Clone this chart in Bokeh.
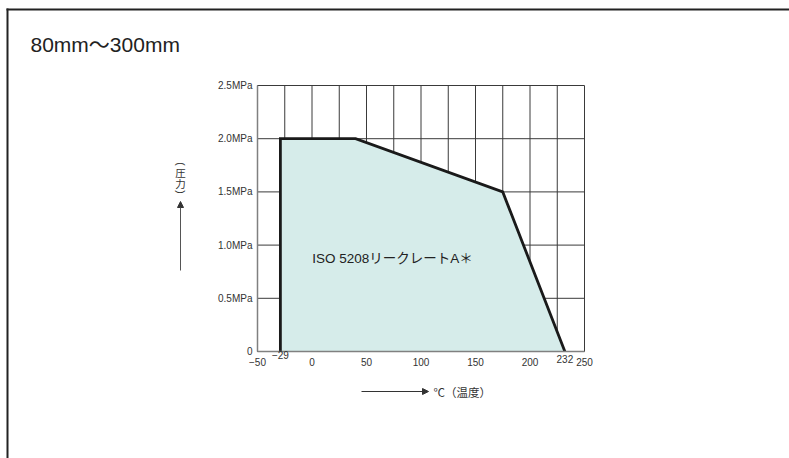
import math
from bokeh.plotting import figure
from bokeh.models import Range1d, FixedTicker, Label, Arrow, NormalHead
from bokeh.embed import file_html
from bokeh.resources import INLINE

# ---- data ----
temps = [-29, -29, 40, 175, 232]
pressures = [0.0, 2.0, 2.0, 1.5, 0.0]
x_ticks = [-50, 0, 50, 100, 150, 200, 250]
x_tick_labels = ["−50", "0", "50", "100", "150", "200", "250"]
y_ticks = [0, 0.5, 1.0, 1.5, 2.0, 2.5]
y_tick_labels = ["0", "0.5MPa", "1.0MPa", "1.5MPa", "2.0MPa", "2.5MPa"]
limit_temps = [-29, 232]
limit_labels = ["−29", "232"]
grid_x = [-50, -25, 0, 25, 50, 75, 100, 125, 150, 175, 200, 225, 250]
grid_y = [0, 0.5, 1.0, 1.5, 2.0, 2.5]
title_text = "80mm～300mm"
inner_text = "ISO 5208リークレートA＊"
x_label = "℃（温度）"
y_label_chars = ["(", "圧", "力", ")"]

# ---- layout (canvas pixels) ----
W, H = 789, 458
XMIN, XMAX, YMIN, YMAX = -50, 250, 0, 2.5
PX_L, PX_R, PX_T, PX_B = 257, 584, 85, 351   # chart area in canvas px
SX = (PX_R - PX_L) / (XMAX - XMIN)
SY = (PX_B - PX_T) / (YMAX - YMIN)
limit_label_rows = [354.5, 358.5]
ylab_rows = [163.5, 172.0, 182.5, 191.5]
ylab_angles = [-math.pi / 2, 0, 0, -math.pi / 2]
ylab_fonts = ["Liberation Sans", "Noto Sans CJK JP", "Noto Sans CJK JP", "Liberation Sans"]

def dx(px):  # canvas px -> data x
    return XMIN + (px - PX_L) / SX

def dy(py):  # canvas px -> data y
    return YMIN + (PX_B - py) / SY

LAT = "Liberation Sans, Noto Sans CJK JP"
CJK = "Noto Sans CJK JP"

p = figure(width=W, height=H, x_range=Range1d(dx(0), dx(W)), y_range=Range1d(dy(H), dy(0)),
           output_backend="svg", toolbar_location=None, title=None,
           min_border=0, min_border_left=0, min_border_right=0,
           min_border_top=0, min_border_bottom=0)
p.outline_line_color = None
p.background_fill_color = "white"
p.border_fill_color = "white"
p.xgrid.visible = False
p.ygrid.visible = False

# grid (drawn under the region)
p.segment(x0=grid_x, y0=[YMIN] * len(grid_x), x1=grid_x, y1=[YMAX] * len(grid_x),
          line_color="#3a3a3a", line_width=1)
p.segment(x0=[XMIN] * len(grid_y), y0=grid_y, x1=[XMAX] * len(grid_y), y1=grid_y,
          line_color="#3a3a3a", line_width=1)

# region + boundary
p.patch(temps, pressures, fill_color="#d6ecea", line_color=None)
p.line(temps, pressures, line_color="#1a1a1a", line_width=2.8, line_join="miter")

# axes at fixed locations
p.xaxis.fixed_location = YMIN
p.yaxis.fixed_location = XMIN
p.xaxis.bounds = (XMIN, XMAX)
p.yaxis.bounds = (YMIN, YMAX)
for ax in (p.xaxis, p.yaxis):
    ax.axis_line_color = "#808080"
    ax.axis_line_width = 1.5
    ax.major_tick_line_color = None
    ax.minor_tick_line_color = None
    ax.major_tick_out = 0
    ax.major_tick_in = 0
    ax.minor_tick_out = 0
    ax.minor_tick_in = 0
    ax.major_label_text_font = "Liberation Sans"
    ax.major_label_text_font_size = "10px"
    ax.major_label_text_color = "#333333"

p.xaxis.ticker = FixedTicker(ticks=x_ticks)
p.xaxis.major_label_overrides = {t: l for t, l in zip(x_ticks, x_tick_labels)}
p.xaxis.major_label_standoff = 6
p.yaxis.ticker = FixedTicker(ticks=y_ticks)
p.yaxis.major_label_overrides = {t: l for t, l in zip(y_ticks, y_tick_labels)}
p.yaxis.major_label_standoff = 5

# raised limit labels
for t, l, row in zip(limit_temps, limit_labels, limit_label_rows):
    p.add_layout(Label(x=t, y=dy(row), text=l, text_align="center", text_baseline="middle",
                       text_font=LAT, text_font_size="10px", text_color="#333333"))

# center text
p.add_layout(Label(x=dx(392), y=dy(258), text=inner_text, text_align="center",
                   text_baseline="middle", text_font=LAT, text_font_size="13.5px",
                   text_color="#222222"))

# title
p.add_layout(Label(x=dx(30), y=dy(44), text=title_text, text_align="left",
                   text_baseline="alphabetic", text_font=LAT, text_font_size="21px",
                   text_color="#222222"))

# x label with arrow
p.add_layout(Arrow(x_start=dx(361), y_start=dy(391), x_end=dx(428), y_end=dy(391),
                   line_color="#333333", line_width=1,
                   end=NormalHead(size=6, fill_color="#333333", line_color="#333333")))
p.add_layout(Label(x=dx(433), y=dy(391), text=x_label, text_align="left",
                   text_baseline="middle", text_font=CJK, text_font_size="11.5px",
                   text_color="#333333"))

# y label (vertical) with arrow
for ch, row, ang, fnt in zip(y_label_chars, ylab_rows, ylab_angles, ylab_fonts):
    p.add_layout(Label(x=dx(180), y=dy(row), text=ch, text_align="center",
                       text_baseline="middle", text_font=fnt, text_font_size="10.5px",
                       angle=ang, text_color="#333333"))
p.add_layout(Arrow(x_start=dx(180), y_start=dy(270), x_end=dx(180), y_end=dy(201),
                   line_color="#555555", line_width=1,
                   end=NormalHead(size=6, fill_color="#333333", line_color="#333333")))

# outer frame lines (top and left)
p.add_layout(Arrow(x_start=dx(6), y_start=dy(9), x_end=dx(W), y_end=dy(9),
                   line_color="#222222", line_width=2, end=None))
p.add_layout(Arrow(x_start=dx(7), y_start=dy(8), x_end=dx(7), y_end=dy(H),
                   line_color="#222222", line_width=2, end=None))

open("out.html", "w").write(file_html(p, INLINE))
